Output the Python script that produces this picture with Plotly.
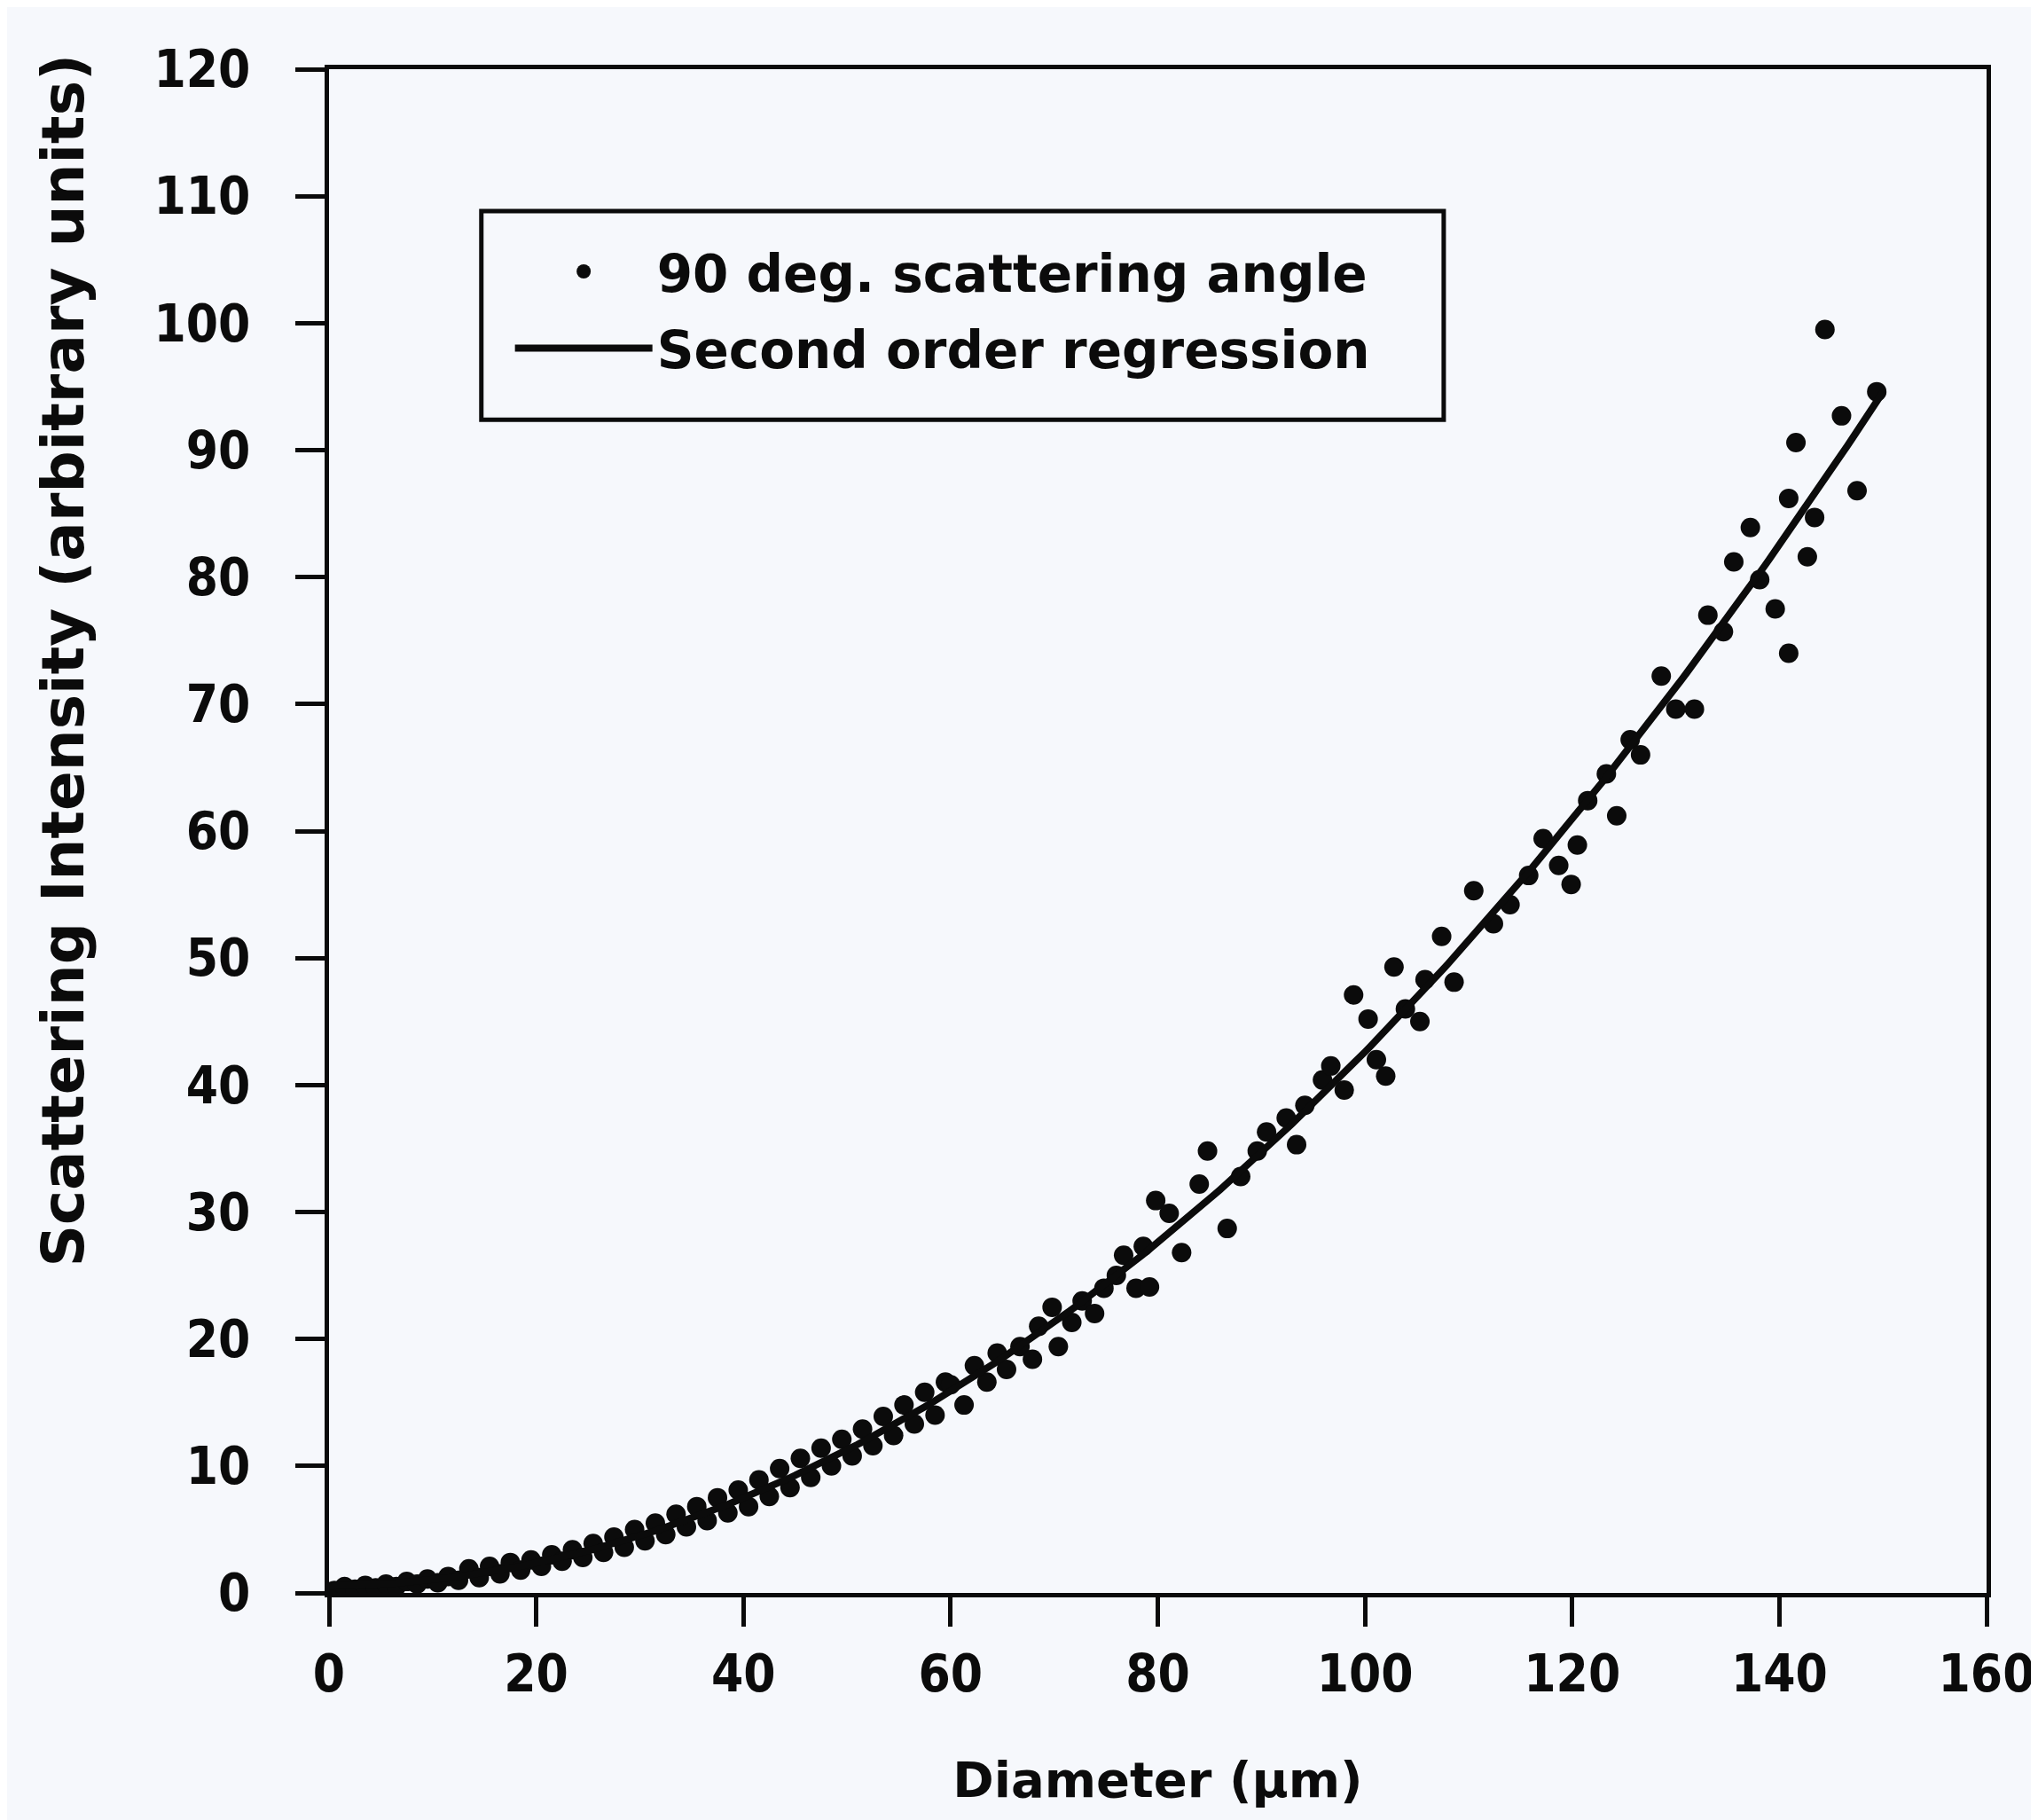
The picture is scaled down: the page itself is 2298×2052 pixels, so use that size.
import numpy as np
import plotly.graph_objects as go

# ---- data (diameter in µm, intensity in arbitrary units) ----
diameter = [
    0.5, 1.5, 2.5, 3.5, 4.5, 5.5, 6.5, 7.5, 8.5, 9.5, 10.5, 11.5, 12.5,
    13.5, 14.5, 15.5, 16.5, 17.5, 18.5, 19.5, 20.5, 21.5, 22.5, 23.5, 24.5,
    25.5, 26.5, 27.5, 28.5, 29.5, 30.5, 31.5, 32.5, 33.5, 34.5, 35.5, 36.5,
    37.5, 38.5, 39.5, 40.5, 41.5, 42.5, 43.5, 44.5, 45.5, 46.5, 47.5, 48.5,
    49.5, 50.5, 51.5, 52.5, 53.5, 54.5, 55.5, 56.5, 57.5, 58.5, 59.5,
    60.0, 61.3, 62.3, 63.5, 64.5, 65.4, 66.7, 67.9, 68.5, 69.8, 70.4, 71.7,
    72.7, 73.9, 74.8, 76.0, 76.7, 77.9, 78.6,
    79.8, 81.1, 79.2, 82.3, 84.0, 84.8, 86.7, 88.0, 89.6, 90.5, 92.4, 93.4,
    94.2, 95.9, 96.7, 98.0, 98.9, 100.3, 101.1, 102.0, 102.8, 103.9, 105.3,
    105.8, 107.4, 108.6, 110.5, 112.4, 114.0, 115.8, 117.2, 118.7, 119.9,
    120.5, 121.5, 123.3, 124.3, 125.6, 126.6, 128.6, 130.0, 131.8, 133.1,
    134.6, 135.6, 137.2, 138.1, 139.6, 140.9, 140.9, 141.6, 142.7, 143.4,
    144.4, 146.0, 147.5, 149.4,
]
intensity = [
    0.2, 0.5, 0.3, 0.6, 0.4, 0.7, 0.5, 0.9, 0.7, 1.1, 0.8, 1.3, 1.0,
    1.9, 1.2, 2.1, 1.5, 2.4, 1.8, 2.6, 2.1, 3.0, 2.5, 3.4, 2.8,
    3.9, 3.2, 4.4, 3.6, 5.0, 4.1, 5.5, 4.6, 6.2, 5.2, 6.8, 5.7,
    7.5, 6.3, 8.1, 6.8, 8.9, 7.6, 9.8, 8.3, 10.6, 9.1, 11.4, 10.0,
    12.1, 10.8, 12.9, 11.6, 13.9, 12.4, 14.8, 13.3, 15.8, 14.0, 16.6,
    16.4, 14.8, 17.9, 16.6, 18.9, 17.6, 19.4, 18.4, 21.0, 22.5, 19.4, 21.3,
    23.0, 22.0, 24.0, 25.0, 26.6, 24.0, 27.3,
    30.9, 29.9, 24.1, 26.8, 32.2, 34.8, 28.7, 32.8, 34.8, 36.3, 37.4, 35.3,
    38.4, 40.4, 41.5, 39.6, 47.1, 45.2, 42.0, 40.7, 49.3, 46.0, 45.0,
    48.3, 51.7, 48.1, 55.3, 52.7, 54.2, 56.5, 59.4, 57.3, 55.8,
    58.9, 62.4, 64.5, 61.2, 67.2, 66.0, 72.2, 69.6, 69.6, 77.0,
    75.7, 81.2, 83.9, 79.8, 77.5, 74.0, 86.2, 90.6, 81.6, 84.7,
    99.5, 92.7, 86.8, 94.6,
]
regression_span = [0, 150]          # diameter range covered by the fitted curve
x_ticks = [0, 20, 40, 60, 80, 100, 120, 140, 160]
y_ticks = [0, 10, 20, 30, 40, 50, 60, 70, 80, 90, 100, 110, 120]

# second order regression of the measured points
coef = np.polyfit(diameter, intensity, 2)
fit_x = np.linspace(regression_span[0], regression_span[1], 301)
fit_y = np.polyval(coef, fit_x)

FONT = "DejaVu Sans"
TICK_FONT = "Liberation Sans Narrow, DejaVu Sans Condensed, DejaVu Sans"
INK = "#0b0b0b"
BG = "#f6f8fc"

fig = go.Figure()
fig.add_trace(go.Scatter(
    x=diameter, y=intensity, mode="markers",
    name="<b>90 deg. scattering angle</b>", legendgroup="pts",
    marker=dict(color=INK, size=22, line=dict(width=0)),
))
fig.add_trace(go.Scatter(
    x=fit_x, y=fit_y, mode="lines",
    name="<b>Second order regression</b>", legendgroup="fit",
    line=dict(color=INK, width=8),
))

axis_common = dict(
    showline=True, linecolor=INK, linewidth=5, mirror=True,
    ticks="outside", ticklen=33, tickwidth=5, tickcolor=INK,
    showgrid=False, zeroline=False,
    tickfont=dict(family=TICK_FONT, size=58, color=INK, weight="bold"),
)

fig.update_layout(
    width=2298, height=2052,
    margin=dict(l=363, r=63, t=70, b=264),
    paper_bgcolor=BG, plot_bgcolor=BG,
    font=dict(family=FONT, color=INK),
    xaxis=dict(
        range=[0, 160], tickvals=x_ticks,
        ticktext=[str(v) for v in x_ticks],
        ticklabelstandoff=3,
        title=dict(text="<b>Diameter (µm)</b>",
                   font=dict(family=FONT, size=56, color=INK), standoff=69),
        **axis_common,
    ),
    yaxis=dict(
        range=[0, 120], tickvals=y_ticks,
        ticktext=[str(v) for v in y_ticks],
        ticklabelstandoff=39,
        **axis_common,
    ),
    legend=dict(
        x=0.1095, y=0.893, xanchor="left", yanchor="top",
        bgcolor="rgba(0,0,0,0)", borderwidth=0,
        font=dict(family=FONT, size=58, color=INK),
        itemsizing="trace", itemwidth=155,
        traceorder="grouped", tracegroupgap=8,
    ),
    shapes=[dict(
        type="rect", xref="paper", yref="paper",
        x0=0.0919, x1=0.6725, y0=0.770, y1=0.9069,
        line=dict(color=INK, width=5), fillcolor=BG, layer="below",
    )],
    annotations=[dict(
        text="<b>Scattering Intensity (arbitrary units)</b>",
        xref="paper", yref="paper", x=-0.16, y=0.612,
        xanchor="center", yanchor="middle", textangle=-90,
        showarrow=False, font=dict(family=FONT, size=66, color=INK),
    )],
)

fig.write_html("out.html")
